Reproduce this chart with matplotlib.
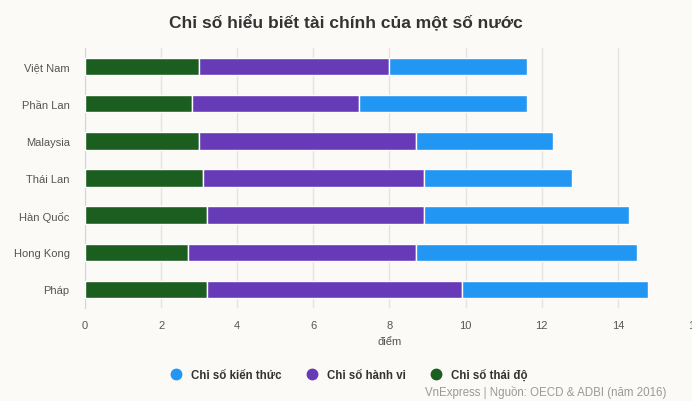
import matplotlib.pyplot as plt
from matplotlib.lines import Line2D

plt.rcParams['font.family'] = ['Liberation Sans', 'DejaVu Sans']

# Dữ liệu
nuoc = ["Việt Nam", "Phần Lan", "Malaysia", "Thái Lan", "Hàn Quốc", "Hong Kong", "Pháp"]
thai_do = [3.0, 2.8, 3.0, 3.1, 3.2, 2.7, 3.2]
hanh_vi = [5.0, 4.4, 5.7, 5.8, 5.7, 6.0, 6.7]
kien_thuc = [3.6, 4.4, 3.6, 3.9, 5.4, 5.8, 4.9]

xanh = "#2196F3"
tim = "#673AB7"
la = "#1B5E20"
nen = "#FBFAF7"

fig = plt.figure(figsize=(6.92, 4.02), dpi=100, facecolor=nen)
ax = fig.add_axes([85 / 692, 1 - 309 / 402, 609 / 692, 260 / 402], facecolor=nen)

y = list(range(len(nuoc)))
left2 = thai_do
left3 = [a + b for a, b in zip(thai_do, hanh_vi)]
ax.barh(y, thai_do, height=0.47, color=la, edgecolor="white", linewidth=1, zorder=3)
ax.barh(y, hanh_vi, left=left2, height=0.47, color=tim, edgecolor="white", linewidth=1, zorder=3)
ax.barh(y, kien_thuc, left=left3, height=0.47, color=xanh, edgecolor="white", linewidth=1, zorder=3)

ax.set_ylim(len(nuoc) - 0.5, -0.5)
ax.set_yticks(y)
ax.set_yticklabels(nuoc)
ax.set_xlim(0, 16)
ax.set_xticks(range(0, 17, 2))
ax.grid(axis="x", color="#e3e3e3", linewidth=1, zorder=0)
for s in ["top", "right", "bottom"]:
    ax.spines[s].set_visible(False)
ax.spines["left"].set_color("#ccd6eb")
ax.tick_params(axis="both", length=0, labelsize=8, labelcolor="#555555")
ax.tick_params(axis="y", pad=11)
ax.tick_params(axis="x", pad=9)
ax.set_xlabel("điểm", fontsize=8, color="#555555", labelpad=4)

fig.text(0.5, 1 - 22 / 402, "Chỉ số hiểu biết tài chính của một số nước", ha="center", va="center",
         fontsize=12.5, fontweight="bold", color="#333333")

handles = [
    Line2D([], [], marker="o", linestyle="", markersize=7.5, color=xanh, label="Chỉ số kiến thức"),
    Line2D([], [], marker="o", linestyle="", markersize=7.5, color=tim, label="Chỉ số hành vi"),
    Line2D([], [], marker="o", linestyle="", markersize=7.5, color=la, label="Chỉ số thái độ"),
]
fig.legend(handles=handles, loc="center", bbox_to_anchor=(0.5, 1 - 376 / 402), ncol=3, frameon=False,
           prop={"size": 8.3, "weight": "bold"}, labelcolor="#333333", handletextpad=0.3, columnspacing=1.6)

fig.text(1 - 26 / 692, 1 - 393 / 402, "VnExpress | Nguồn: OECD & ADBI (năm 2016)", ha="right", va="center",
         fontsize=8.3, color="#999999")

fig.savefig("out.png", dpi=100, facecolor=nen)
